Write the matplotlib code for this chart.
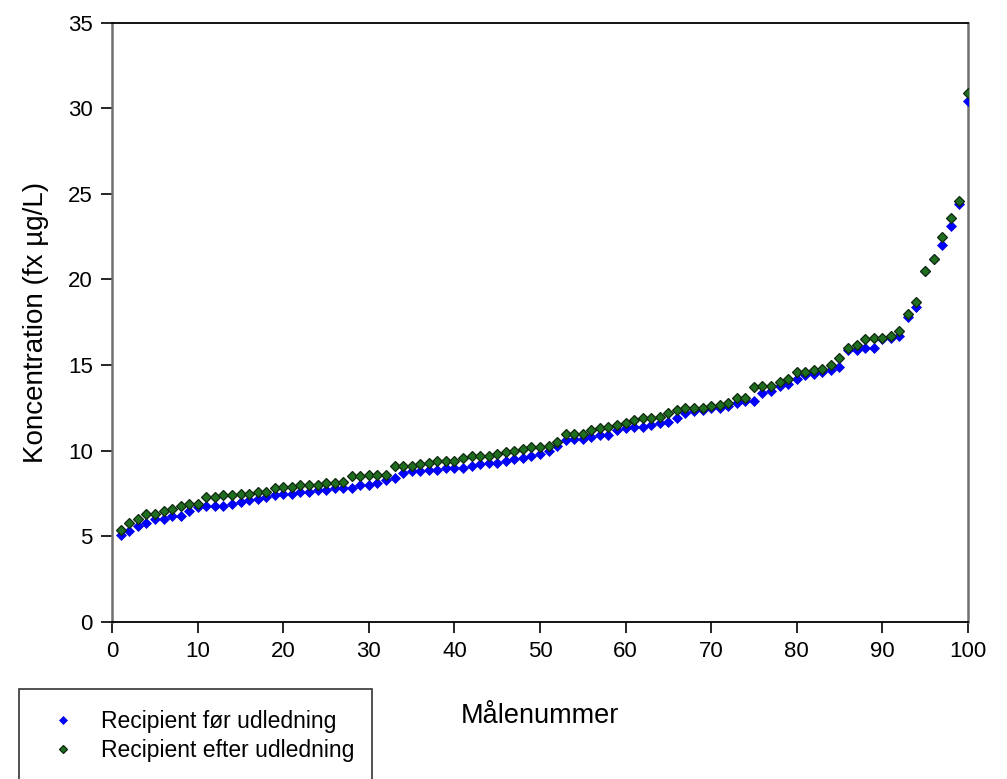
import numpy as np
import matplotlib
matplotlib.use("Agg")
import matplotlib.pyplot as plt
from matplotlib.patches import Rectangle

plt.rcParams['font.family'] = ['Liberation Sans', 'DejaVu Sans']

# Measurement index and concentrations before / after discharge
maalenummer = np.arange(1, 101)

foer_udledning = [
    5.1, 5.3, 5.6, 5.8, 6.0, 6.0, 6.2, 6.2, 6.5, 6.7,
    6.8, 6.8, 6.8, 6.9, 7.0, 7.1, 7.2, 7.3, 7.4, 7.5,
    7.5, 7.6, 7.6, 7.7, 7.7, 7.8, 7.8, 7.8, 8.0, 8.0,
    8.1, 8.3, 8.4, 8.7, 8.8, 8.8, 8.9, 8.9, 9.0, 9.0,
    9.0, 9.1, 9.2, 9.3, 9.3, 9.4, 9.5, 9.6, 9.7, 9.8,
    10.0, 10.3, 10.6, 10.7, 10.7, 10.8, 10.9, 10.9, 11.2, 11.3,
    11.4, 11.4, 11.5, 11.6, 11.7, 11.9, 12.2, 12.3, 12.4, 12.5,
    12.5, 12.6, 12.8, 12.9, 12.9, 13.4, 13.5, 13.8, 13.9, 14.2,
    14.4, 14.5, 14.6, 14.7, 14.9, 15.9, 15.9, 16.0, 16.0, 16.5,
    16.6, 16.7, 17.8, 18.4, 20.5, 21.2, 22.0, 23.1, 24.4, 30.4,
]

efter_udledning = [
    5.4, 5.8, 6.0, 6.3, 6.3, 6.5, 6.6, 6.8, 6.9, 6.9,
    7.3, 7.3, 7.4, 7.4, 7.5, 7.5, 7.6, 7.6, 7.8, 7.9,
    7.9, 8.0, 8.0, 8.0, 8.1, 8.1, 8.2, 8.5, 8.5, 8.6,
    8.6, 8.6, 9.1, 9.1, 9.1, 9.2, 9.3, 9.4, 9.4, 9.4,
    9.6, 9.7, 9.7, 9.7, 9.8, 9.9, 10.0, 10.1, 10.2, 10.2,
    10.3, 10.5, 11.0, 11.0, 11.0, 11.2, 11.3, 11.4, 11.5, 11.6,
    11.8, 11.9, 11.9, 12.0, 12.2, 12.4, 12.5, 12.5, 12.5, 12.6,
    12.7, 12.8, 13.1, 13.1, 13.7, 13.8, 13.8, 14.0, 14.2, 14.6,
    14.6, 14.7, 14.8, 15.0, 15.4, 16.0, 16.2, 16.5, 16.6, 16.6,
    16.7, 17.0, 18.0, 18.7, 20.5, 21.2, 22.5, 23.6, 24.6, 30.9,
]

x_ticks = [0, 10, 20, 30, 40, 50, 60, 70, 80, 90, 100]
y_ticks = [0, 5, 10, 15, 20, 25, 30, 35]

fig = plt.figure(figsize=(10.07, 7.79), dpi=100)
ax = fig.add_axes([0.1115, 0.2015, 0.8495, 0.7695])

l1, = ax.plot(maalenummer, foer_udledning, linestyle='none', marker='D',
              markersize=4.8, markerfacecolor='#0000ff', markeredgecolor='#0000e0',
              markeredgewidth=0.5, label='Recipient før udledning', zorder=3)
l2, = ax.plot(maalenummer, efter_udledning, linestyle='none', marker='D',
              markersize=5.4, markerfacecolor='#1f6e1f', markeredgecolor='#102810',
              markeredgewidth=0.9, label='Recipient efter udledning', zorder=4)

ax.set_xlim(0, 100)
ax.set_ylim(0, 35)
ax.set_xticks(x_ticks)
ax.set_yticks(y_ticks)
ax.tick_params(axis='both', direction='out', length=8, width=1.2,
               labelsize=16, pad=6, colors='black')

for side in ['top', 'bottom']:
    ax.spines[side].set_color('black')
    ax.spines[side].set_linewidth(1.3)
for side in ['left', 'right']:
    ax.spines[side].set_color('#707070')
    ax.spines[side].set_linewidth(1.8)

ax.set_xlabel('Målenummer', fontsize=19.5, labelpad=29)
ax.set_ylabel('Koncentration (fx µg/L)', fontsize=20, labelpad=14)

# Legend box in the lower left corner, running off the bottom edge
fig.patches.append(Rectangle((19 / 1007, -0.05), 353 / 1007, 0.05 + 90 / 779,
                             transform=fig.transFigure, fill=False,
                             edgecolor='#333333', linewidth=1.2, clip_on=False))
fig.legend(handles=[l1, l2], loc='upper left',
           bbox_to_anchor=(40 / 1007, 1 - 701 / 779), frameon=False,
           fontsize=16.5, handlelength=1.2, handletextpad=1.05,
           labelspacing=0.25, borderaxespad=0, markerscale=0.8)

fig.savefig('out.png', dpi=100)
